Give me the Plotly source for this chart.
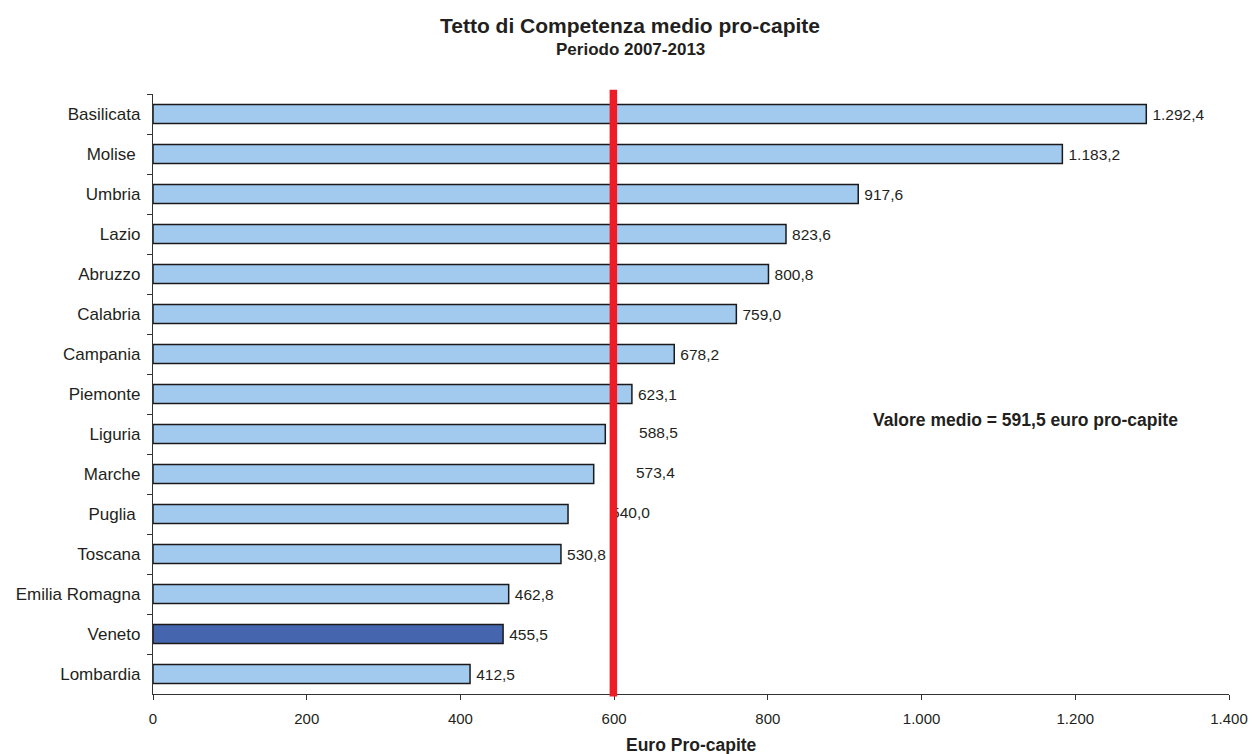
import plotly.graph_objects as go

regions = ["Basilicata", "Molise ", "Umbria", "Lazio", "Abruzzo", "Calabria", "Campania",
           "Piemonte", "Liguria", "Marche", "Puglia ", "Toscana", "Emilia Romagna", "Veneto", "Lombardia"]
values = [1292.4, 1183.2, 917.6, 823.6, 800.8, 759.0, 678.2, 623.1, 588.5, 573.4, 540.0, 530.8, 462.8, 455.5, 412.5]
highlight = "Veneto"
mean_line = 599
mean_text = "Valore medio = 591,5 euro pro-capite"
title_text = "Tetto di Competenza medio pro-capite"
subtitle_text = "Periodo 2007-2013"
x_title = "Euro Pro-capite"
# labels moved away from the bar end (data units)
label_nudge = {"Liguria": 44, "Marche": 55, "Puglia ": 56}


def it_num(v):
    return f"{v:,.1f}".replace(",", "X").replace(".", ",").replace("X", ".")


light = "#A2C9EE"
dark = "#4566AF"
ink = "#231F20"
font = "Liberation Sans, Arial, sans-serif"

colors = [dark if r == highlight else light for r in regions]
bar_text = ["" if r in label_nudge else "\u2009" + it_num(v) for r, v in zip(regions, values)]

fig = go.Figure()
fig.add_trace(go.Bar(
    y=regions, x=values, orientation="h", width=0.48,
    marker=dict(color=colors, line=dict(color="#1a1a1a", width=1.5)),
    text=bar_text, textposition="outside", cliponaxis=False,
    textfont=dict(family=font, size=15.5, color=ink),
    hoverinfo="x+y",
))
mv_regions = [r for r in regions if r in label_nudge]
mv_vals = [values[regions.index(r)] for r in mv_regions]
fig.add_trace(go.Scatter(
    y=mv_regions, x=[v + label_nudge[r] for r, v in zip(mv_regions, mv_vals)],
    mode="text", text=[it_num(v) for v in mv_vals],
    textposition="middle right", textfont=dict(family=font, size=15.5, color=ink),
    cliponaxis=False, hoverinfo="skip",
))
fig.add_shape(type="line", xref="x", yref="paper", x0=mean_line, x1=mean_line,
              y0=-0.004, y1=1.007, line=dict(color="#EE1C25", width=7.5), layer="above")
fig.add_annotation(xref="paper", yref="paper", x=0.811, y=0.456, xanchor="center", yanchor="middle",
                   text="<b>" + mean_text + "</b>", showarrow=False,
                   font=dict(family=font, size=17.5, color=ink))
fig.add_annotation(xref="paper", yref="paper", x=0.5, y=(694 - 745) / 600, xanchor="center", yanchor="middle",
                   text="<b>" + x_title + "</b>", showarrow=False,
                   font=dict(family=font, size=17.5, color=ink))
fig.add_annotation(xref="paper", yref="paper", x=(630 - 153) / 1076, y=(694 - 25) / 600,
                   xanchor="center", yanchor="middle",
                   text="<b>" + title_text + "</b>", showarrow=False,
                   font=dict(family=font, size=21, color=ink))
fig.add_annotation(xref="paper", yref="paper", x=(630 - 153) / 1076, y=(694 - 49) / 600,
                   xanchor="center", yanchor="middle",
                   text="<b>" + subtitle_text + "</b>", showarrow=False,
                   font=dict(family=font, size=17, color=ink))

fig.update_layout(
    width=1252, height=754,
    margin=dict(l=153, r=23, t=94, b=60, autoexpand=False),
    paper_bgcolor="white", plot_bgcolor="white",
    separators=",.",
    showlegend=False,
    bargap=0.5,
    font=dict(family=font, color=ink, size=14),
    xaxis=dict(range=[0, 1400], dtick=200, tickformat=",d", showgrid=False, zeroline=False,
               showline=True, linecolor="#333", linewidth=1.2, ticks="outside", ticklen=5,
               tickcolor="#333", ticklabelstandoff=6, automargin=False,
               tickfont=dict(family=font, size=15, color=ink)),
    yaxis=dict(autorange="reversed", showgrid=False, showline=True, linecolor="#333", linewidth=1.2,
               ticks="outside", ticklen=5, tickcolor="#333", tickson="boundaries",
               ticklabelstandoff=8, automargin=False,
               tickfont=dict(family=font, size=17, color=ink)),
)
fig.write_html("out.html", config={"displayModeBar": False},
               post_script="document.body.style.margin='0';")
